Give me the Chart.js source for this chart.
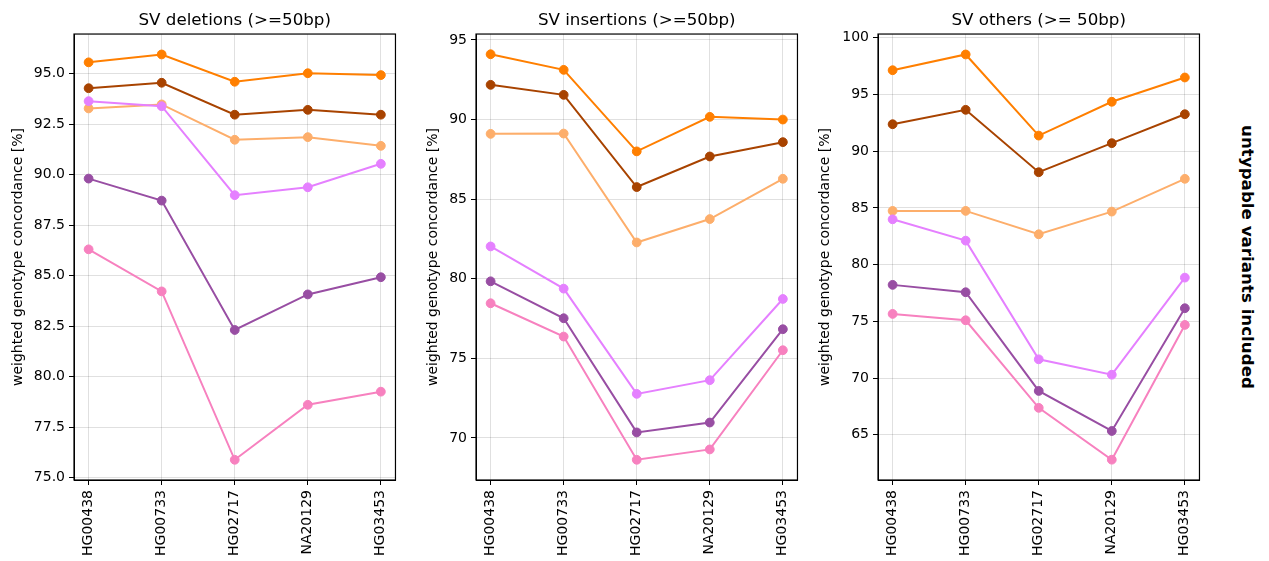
<!DOCTYPE html>
<html>
<head>
<meta charset="utf-8">
<script src="https://cdn.jsdelivr.net/npm/chart.js@4"></script>
<style>
  body { margin: 0; background: #fff; width: 1269px; height: 561px; position: relative; overflow: hidden; font-family: 'DejaVu Sans'; }
  .panel { position: absolute; top: 0; height: 561px; }
  #side { position: absolute; left: 1238px; top: 257px; transform: translateY(-50%); writing-mode: vertical-rl; font-weight: bold; font-size: 16.7px; color: #000; }
</style>
</head>
<body>
<div id="side">untypable variants included</div>
<script>
// DATA
const samples = ['HG00438', 'HG00733', 'HG02717', 'NA20129', 'HG03453'];
const titles = ['SV deletions (>=50bp)', 'SV insertions (>=50bp)', 'SV others (>= 50bp)'];
const colors = ['#ff7f00', '#a84300', '#fdae6b', '#e580ff', '#984ea3', '#f781bf'];

// rows follow colors: orange, brown, light orange, light magenta, purple, pink
const deletions = [
  [95.55, 95.94, 94.59, 95.01, 94.92],
  [94.27, 94.54, 92.96, 93.20, 92.96],
  [93.27, 93.47, 91.72, 91.85, 91.42],
  [93.63, 93.38, 88.98, 89.37, 90.53],
  [89.80, 88.71, 82.31, 84.07, 84.92],
  [86.30, 84.22, 75.89, 78.61, 79.26]
];
const insertions = [
  [94.10, 93.12, 88.00, 90.17, 90.00],
  [92.18, 91.55, 85.76, 87.68, 88.58],
  [89.10, 89.12, 82.28, 83.75, 86.28],
  [82.03, 79.38, 72.77, 73.63, 78.73],
  [79.84, 77.52, 70.35, 70.97, 76.83],
  [78.46, 76.37, 68.63, 69.28, 75.51]
];
const others = [
  [97.14, 98.53, 91.38, 94.36, 96.50],
  [92.38, 93.65, 88.15, 90.71, 93.26],
  [84.74, 84.74, 82.68, 84.68, 87.57],
  [84.00, 82.12, 71.66, 70.30, 78.86],
  [78.22, 77.57, 68.87, 65.34, 76.16],
  [75.66, 75.10, 67.38, 62.81, 74.69]
];

const delTicks = [75, 77.5, 80, 82.5, 85, 87.5, 90, 92.5, 95];
const insTicks = [70, 75, 80, 85, 90, 95];
const othTicks = [65, 70, 75, 80, 85, 90, 95, 100];
const tickDecimals = [1, 0, 0];
const yRanges = [[74.89, 96.95], [67.36, 95.37], [61.02, 100.33]];

// LAYOUT
const panelLeft = [6, 421, 813];
const panelWidth = [397, 384, 394];
const yAxisWidth = [68, 55, 65];

Chart.defaults.font.family = 'DejaVu Sans';
Chart.defaults.color = '#000';

// black box around each plot area
const frame = {
  id: 'frame',
  afterDraw(chart) {
    const a = chart.chartArea;
    const ctx = chart.ctx;
    ctx.save();
    ctx.strokeStyle = '#000';
    ctx.lineWidth = 1.2;
    ctx.strokeRect(a.left, a.top, a.right - a.left, a.bottom - a.top);
    ctx.restore();
  }
};

function makeChart(i, values, yTicks) {
  let div = document.createElement('div');
  div.className = 'panel';
  div.style.left = panelLeft[i] + 'px';
  div.style.width = panelWidth[i] + 'px';
  let canvas = document.createElement('canvas');
  div.appendChild(canvas);
  document.body.appendChild(div);

  const gridOpts = { color: 'rgba(0,0,0,0.12)', tickColor: '#000', tickLength: 5 };

  new Chart(canvas, {
    type: 'line',
    data: {
      datasets: values.map((row, k) => ({
        data: row.map((v, j) => ({ x: j, y: v })),
        borderColor: colors[k],
        backgroundColor: colors[k],
        borderWidth: 2,
        pointRadius: 4.4,
        pointBorderWidth: 1,
        pointHoverRadius: 4.4,
        order: values.length - k
      }))
    },
    options: {
      responsive: true,
      maintainAspectRatio: false,
      animation: false,
      layout: { padding: { right: 4 } },
      plugins: {
        legend: { display: false },
        tooltip: { enabled: false },
        title: {
          display: true,
          text: titles[i],
          fullSize: false,
          font: { size: 16.7, weight: 'normal' },
          color: '#000',
          padding: { top: 11, bottom: 3 }
        }
      },
      scales: {
        x: {
          type: 'linear',
          min: -0.2,
          max: 4.2,
          afterBuildTicks: s => { s.ticks = samples.map((_, j) => ({ value: j })); },
          afterFit: s => { s.height = 81; },
          ticks: {
            autoSkip: false,
            minRotation: 90,
            maxRotation: 90,
            font: { size: 14 },
            color: '#000',
            padding: 5,
            callback: v => samples[v]
          },
          grid: gridOpts,
          border: { color: '#000' }
        },
        y: {
          min: yRanges[i][0],
          max: yRanges[i][1],
          afterBuildTicks: s => { s.ticks = yTicks.map(v => ({ value: v })); },
          afterFit: s => { s.width = yAxisWidth[i]; },
          ticks: {
            font: { size: 14 },
            color: '#000',
            padding: 4,
            callback: v => v.toFixed(tickDecimals[i])
          },
          title: {
            display: true,
            text: 'weighted genotype concordance [%]',
            font: { size: 14 },
            color: '#000'
          },
          grid: gridOpts,
          border: { color: '#000' }
        }
      }
    },
    plugins: [frame]
  });
}

makeChart(0, deletions, delTicks);
makeChart(1, insertions, insTicks);
makeChart(2, others, othTicks);
</script>
</body>
</html>
